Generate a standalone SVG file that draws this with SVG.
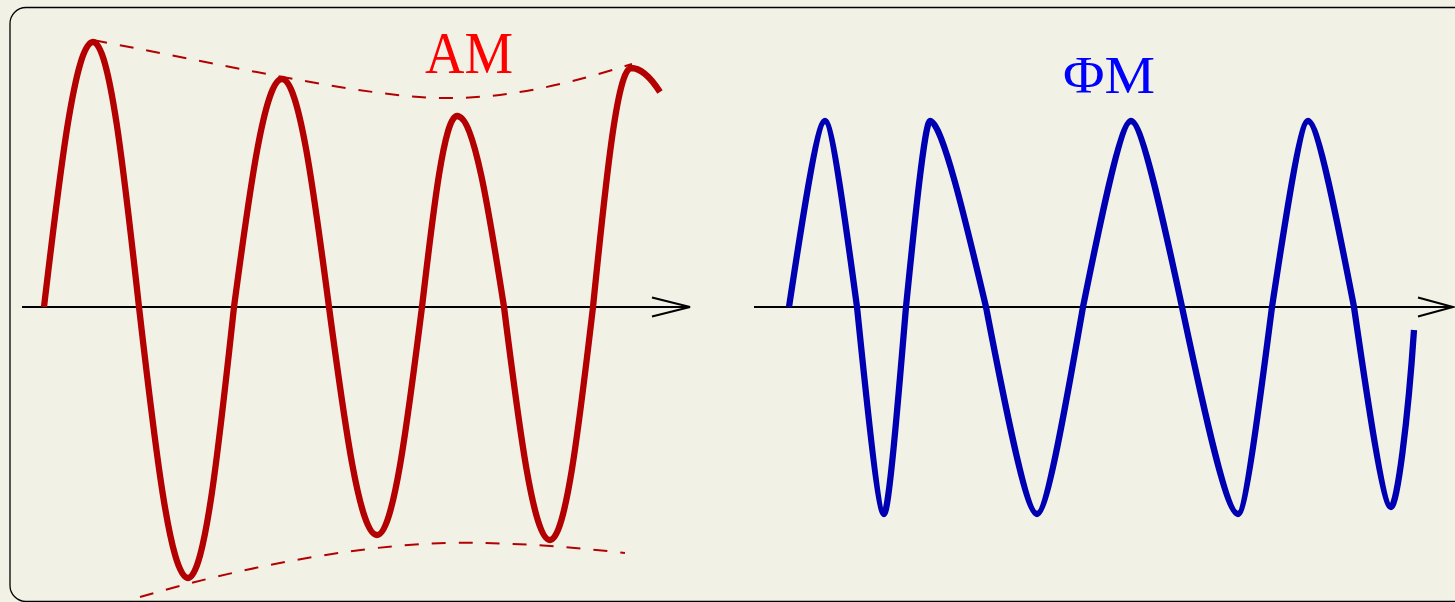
<svg xmlns="http://www.w3.org/2000/svg" width="1455" height="602" viewBox="0 0 1455 602">
<style>
.wave{fill:none;stroke-width:6.3;stroke-linejoin:round;stroke-linecap:butt}
.am{stroke:#b30000}
.fm{stroke:#0000b3}
.env{fill:none;stroke:#b30000;stroke-width:2;stroke-dasharray:14 13}
.axis{fill:none;stroke:#000;stroke-width:2}
.lbl{font-family:"Liberation Serif","DejaVu Serif",serif}
</style>
<rect x="0" y="0" width="1455" height="602" fill="#f2f1e6"/>
<rect x="10" y="7.5" width="1470" height="594" rx="16" ry="16" fill="#f2f1e6" stroke="#000" stroke-width="1.3"/>
<g id="connectors">
<path class="axis" d="M22,307 H690 M652,297.5 L690,307 L652,316.5"/>
<path class="axis" d="M754,307 H1453 M1418,297.5 L1453,307 L1418,316.5"/>
</g>
<g id="am-envelope">
<path class="env" d="M93,40 C250,70 380,100 455,98 C520,97 580,80 632,64"/>
<path class="env" d="M140,597 C250,565 380,540 480,543 C540,544 590,549 625,553"/>
</g>
<g id="am-wave">
<path class="wave am" d="M44,307 C60,171.3 75.3,42 93,42 C109.7,42 124,171.3 139,307 C155,445.8 170.3,578 188,578 C204.7,578 219,445.8 234,307 C249.6,190.3 264.6,79 282,79 C299,79 313.7,190.3 329,307 C344.6,423.7 359.6,535 377,535 C393.3,535 407.3,423.7 422,307 C433.4,209.2 444.3,116 457,116 C474,116 488.7,209.2 504,307 C519,426.3 533.3,540 550,540 C565.6,540 579,426.3 593,307 C605.4,184.6 617.2,68 631,68 C641,68 651,78 660,92"/>
</g>
<g id="fm-wave">
<path class="wave fm" d="M789,307 C800.9,228.9 817.1,121 825,121 C832,121 846.4,228.9 857,307 C865.9,393.9 878.1,514 884,514 C888.8,514 898.7,393.9 906,307 C913.9,228.9 924.7,121 930,121 C942.3,121 967.5,228.9 986,307 C1002.8,393.9 1025.8,514 1037,514 C1047.1,514 1067.8,393.9 1083,307 C1098.8,228.9 1120.4,121 1131,121 C1142.2,121 1165.2,228.9 1182,307 C1200.5,393.9 1225.7,514 1238,514 C1245.5,514 1260.8,393.9 1272,307 C1283.9,228.9 1300.1,121 1308,121 C1318.1,121 1338.8,228.9 1354,307 C1366.2,391 1382.9,507 1391,507 C1397,507 1408,420 1414,330"/>
</g>
<g id="am-label">
<text class="lbl" x="425" y="73" font-size="60" fill="#ff0000" textLength="88" lengthAdjust="spacingAndGlyphs">AM</text>
</g>
<g id="fm-label">
<text class="lbl" x="1063" y="93" font-size="53" fill="#0000ff" textLength="92" lengthAdjust="spacingAndGlyphs">ΦM</text>
</g>
</svg>
